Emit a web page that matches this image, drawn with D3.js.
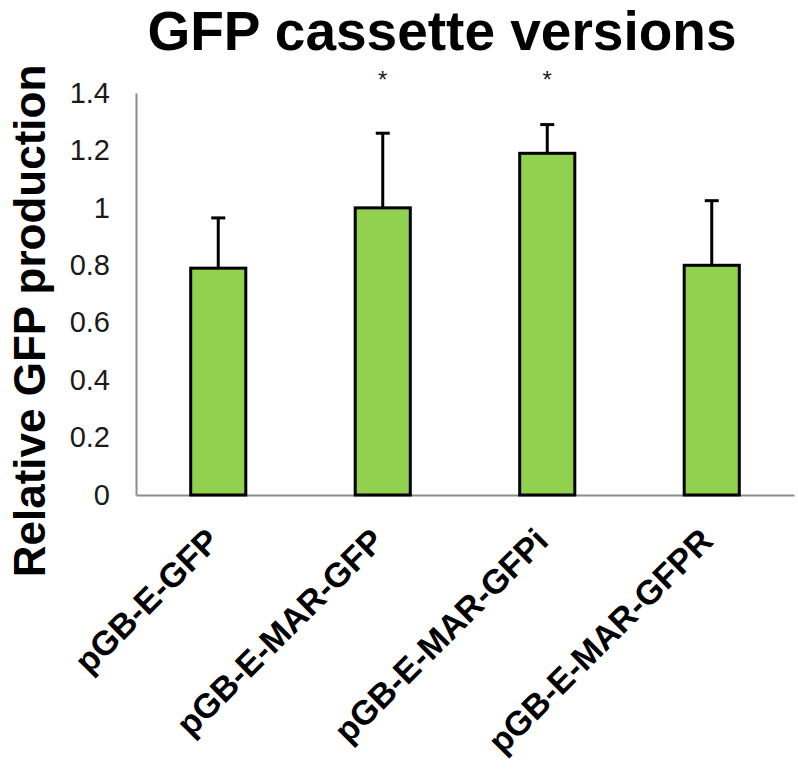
<!DOCTYPE html>
<html><head><meta charset="utf-8">
<script src="https://cdn.jsdelivr.net/npm/d3@7"></script>
<style>body{margin:0;background:#fff}</style>
</head><body>
<script>
const categories = ["pGB-E-GFP", "pGB-E-MAR-GFP", "pGB-E-MAR-GFPi", "pGB-E-MAR-GFPR"];
const values = [0.79, 1.0, 1.19, 0.80];
const errors = [0.175, 0.26, 0.10, 0.225];
const significant = [false, true, true, false];
const yTicks = [0, 0.2, 0.4, 0.6, 0.8, 1, 1.2, 1.4];

const W = 798, H = 779;
const m = {left: 136, right: 4, top: 93, bottom: 284};
const FONT = "Arial, 'Liberation Sans', sans-serif";
const svg = d3.select("body").append("svg").attr("width", W).attr("height", H);

const x = d3.scaleBand().domain(categories).range([m.left, W - m.right]).padding(0);
const y = d3.scaleLinear().domain([0, 1.4]).range([H - m.bottom, m.top]);
const bw = x.bandwidth() * 0.335;

// axes
const yAxis = d3.axisLeft(y).tickValues(yTicks).tickSize(0).tickPadding(26).tickFormat(d3.format("~g"));
const gy = svg.append("g").attr("transform", `translate(${m.left},0)`).call(yAxis);
gy.select(".domain").attr("stroke", "#8c8c8c").attr("stroke-width", 2);
gy.selectAll("text").attr("font-family", FONT).attr("font-size", 29).attr("fill", "#1a1a1a");

const xAxis = d3.axisBottom(x).tickSize(0).tickPadding(0);
const gx = svg.append("g").attr("transform", `translate(0,${y(0)})`).call(xAxis);
gx.select(".domain").attr("stroke", "#8c8c8c").attr("stroke-width", 2);
gx.selectAll("text")
  .attr("font-family", FONT)
  .attr("font-size", 34).attr("font-weight", "bold").attr("fill", "#000")
  .attr("text-anchor", "end").attr("dy", 0).attr("y", 0)
  .attr("transform", "translate(3,48) rotate(-45)");

// bars
const bars = svg.append("g");
bars.selectAll("rect").data(categories).join("rect")
  .attr("x", d => x(d) + x.bandwidth() / 2 - bw / 2)
  .attr("y", (d, i) => y(values[i]))
  .attr("width", bw)
  .attr("height", (d, i) => y(0) - y(values[i]))
  .attr("fill", "#92d050").attr("stroke", "#000").attr("stroke-width", 3);

// error bars
const eb = svg.append("g").attr("stroke", "#000").attr("stroke-width", 3);
categories.forEach((c, i) => {
  const cx = x(c) + x.bandwidth() / 2;
  eb.append("line").attr("x1", cx).attr("x2", cx).attr("y1", y(values[i])).attr("y2", y(values[i] + errors[i]));
  eb.append("line").attr("x1", cx - 7).attr("x2", cx + 7).attr("y1", y(values[i] + errors[i])).attr("y2", y(values[i] + errors[i]));
});

// asterisks
svg.append("g").selectAll("text").data(categories.filter((c, i) => significant[i])).join("text")
  .attr("x", d => x(d) + x.bandwidth() / 2).attr("y", 88)
  .attr("text-anchor", "middle").attr("font-family", FONT)
  .attr("font-size", 24).attr("fill", "#222").text("*");

// title
svg.append("text").attr("x", 442).attr("y", 50).attr("text-anchor", "middle")
  .attr("font-family", FONT).attr("font-weight", "bold")
  .attr("font-size", 55).attr("fill", "#000").text("GFP cassette versions");

// y label
svg.append("text").attr("transform", "translate(45,321) rotate(-90)").attr("text-anchor", "middle")
  .attr("font-family", FONT).attr("font-weight", "bold")
  .attr("font-size", 44).attr("fill", "#000").text("Relative GFP production");
</script>
</body></html>
